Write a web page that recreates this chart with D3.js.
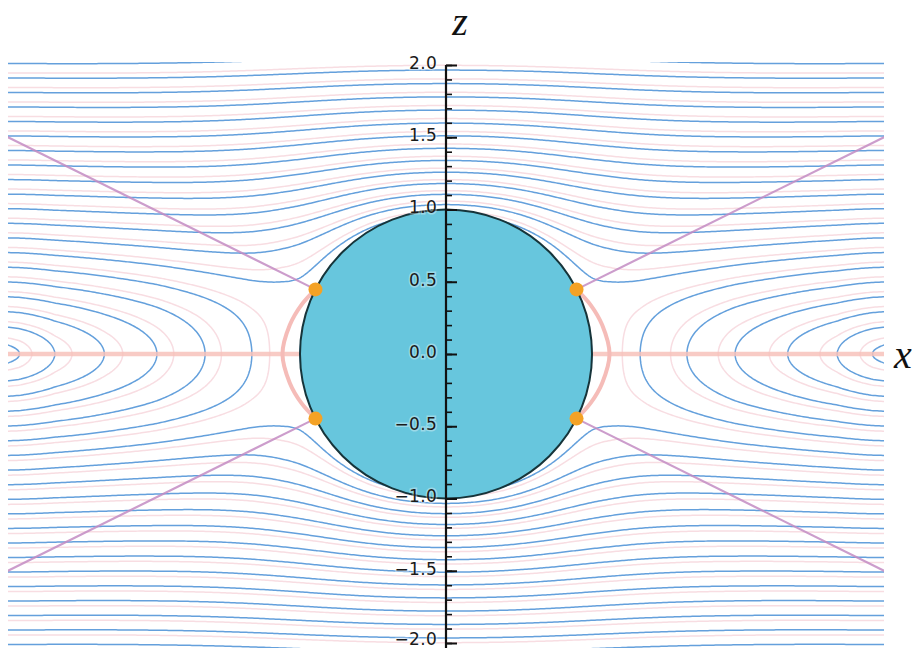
<!DOCTYPE html>
<html>
<head>
<meta charset="utf-8">
<script src="https://cdn.jsdelivr.net/npm/d3@7"></script>
<style>
  body { margin: 0; background: #fff; }
  svg { display: block; }
  .tick-label text { font-family: "DejaVu Sans", sans-serif; font-size: 17px; fill: #1a1a1a; letter-spacing: 0.3px; paint-order: stroke; stroke: rgba(255,255,255,0.35); stroke-width: 3px; }
  .axis-title { font-family: "Liberation Serif", "DejaVu Serif", serif; font-style: italic; font-size: 40px; fill: #111; }
</style>
</head>
<body>
<svg id="chart"></svg>
<script>
const width = 913;
const height = 648;

// plot domain (data units)
const X_DOMAIN = [-3, 3];
const Z_DOMAIN = [-2, 2];

// contour levels of the blue field lines
const LEVELS = d3.range(1, 23).map(k => k / 10);

// where each closed loop crosses the x axis (|x|), with its level
const AXIS_X =      [0.0, 1.0, 1.12, 1.33, 1.65, 1.98, 2.34, 2.68, 2.92, 3.3];
const AXIS_LEVEL =  [1.0, 0.7, 0.66, 0.6,  0.5,  0.4,  0.3,  0.2,  0.1,  0.0];

// sphere radius and the points where the cone lines meet it
const SPHERE_R = 1;
const CONE_SLOPE = 0.5;
const DOTS = [[-0.894, 0.447], [0.894, 0.447], [-0.894, -0.447], [0.894, -0.447]];

// pink arc beside the sphere (right half, mirrored for the left)
const ARC = [[0.894, 0.447], [0.99, 0.34], [1.07, 0.2], [1.12, 0.0], [1.07, -0.2], [0.99, -0.34], [0.894, -0.447]];

const Z_TICKS_MAJOR = [-2, -1.5, -1, -0.5, 0, 0.5, 1, 1.5, 2];
const Z_TICKS_MINOR = d3.range(-20, 21).map(k => k / 10);

const x = d3.scaleLinear().domain(X_DOMAIN).range([8, 884]);
const y = d3.scaleLinear().domain(Z_DOMAIN).range([643, 65]);

const axisLevel = d3.scaleLinear().domain(AXIS_X).range(AXIS_LEVEL).clamp(true);

// scalar field whose level sets are the blue lines
function field(px, pz) {
  const u = Math.abs(px), v = Math.abs(pz);
  const r = Math.max(Math.hypot(u, v), 0.6);
  const vUp = v * (1 - 0.25 / (r * r * r));
  const c2 = (u * u) / (r * r);
  const m = axisLevel(u) * c2;
  return Math.sqrt(vUp * vUp + m * m);
}

const svg = d3.select("#chart").attr("width", width).attr("height", height);

svg.append("defs").append("clipPath").attr("id", "plot-clip")
  .append("rect")
  .attr("x", x(X_DOMAIN[0])).attr("y", y(Z_DOMAIN[1]) - 3)
  .attr("width", x(X_DOMAIN[1]) - x(X_DOMAIN[0]))
  .attr("height", y(Z_DOMAIN[0]) - y(Z_DOMAIN[1]) + 10);

// sample grid slightly larger than the plot so the grid border stays clipped
const gx0 = -3.2, gx1 = 3.2, gz0 = -2.3, gz1 = 2.3;
const nx = 480, nz = 345;
const dx = (gx1 - gx0) / nx, dz = (gz1 - gz0) / nz;
const values = new Float64Array(nx * nz);
for (let j = 0; j < nz; j++) {
  const pz = gz1 - (j + 0.5) * dz;
  for (let i = 0; i < nx; i++) {
    values[j * nx + i] = field(gx0 + (i + 0.5) * dx, pz);
  }
}

const toScreen = d3.geoTransform({
  point(px, py) { this.stream.point(x(gx0 + px * dx), y(gz1 - py * dz)); }
});
const path = d3.geoPath(toScreen);

const plot = svg.append("g").attr("clip-path", "url(#plot-clip)");

// faint pink halos beside the lines
const halo = d3.contours().size([nx, nz]).thresholds(LEVELS.map(l => l + 0.035))(values);
plot.append("g").selectAll("path").data(halo).join("path")
  .attr("d", path).attr("fill", "none")
  .attr("stroke", "#f8dde2").attr("stroke-width", 1.5);

const contours = d3.contours().size([nx, nz]).thresholds(LEVELS)(values);
plot.append("g").selectAll("path").data(contours).join("path")
  .attr("d", path).attr("fill", "none")
  .attr("stroke", "#64a0dc").attr("stroke-width", 1.5);

// horizontal pink line on the x axis
[-1, 1].forEach(s => {
  plot.append("line")
    .attr("x1", x(s * SPHERE_R)).attr("x2", x(s * 3.05))
    .attr("y1", y(0)).attr("y2", y(0))
    .attr("stroke", "#f7c2bb").attr("stroke-width", 4.5).attr("opacity", 0.85);
});

// cone lines z = ±x/2
const xEdge = 3.05;
const x0 = SPHERE_R / Math.sqrt(1 + CONE_SLOPE * CONE_SLOPE);
[[1, 1], [1, -1], [-1, 1], [-1, -1]].forEach(([sx, sz]) => {
  plot.append("line")
    .attr("x1", x(sx * x0)).attr("y1", y(sz * CONE_SLOPE * x0))
    .attr("x2", x(sx * xEdge)).attr("y2", y(sz * CONE_SLOPE * xEdge))
    .attr("stroke", "#c48cc4").attr("stroke-width", 2.2).attr("opacity", 0.85);
});

// pink arcs
const arcLine = d3.line().x(d => x(d[0])).y(d => y(d[1])).curve(d3.curveCatmullRom);
[1, -1].forEach(s => {
  plot.append("path")
    .attr("d", arcLine(ARC.map(d => [s * d[0], d[1]])))
    .attr("fill", "none").attr("stroke", "#f5bcb8").attr("stroke-width", 4);
});

// sphere
svg.append("ellipse")
  .attr("cx", x(0)).attr("cy", y(0))
  .attr("rx", x(SPHERE_R) - x(0)).attr("ry", y(0) - y(SPHERE_R))
  .attr("fill", "#67c6dd").attr("stroke", "#16343a").attr("stroke-width", 2);

// orange contact points
svg.append("g").selectAll("circle").data(DOTS).join("circle")
  .attr("cx", d => x(d[0])).attr("cy", d => y(d[1]))
  .attr("r", 7).attr("fill", "#f4a225");

// vertical axis
const axisG = svg.append("g").attr("transform", `translate(${x(0)},0)`);
axisG.append("g")
  .call(d3.axisRight(y).tickValues(Z_TICKS_MINOR).tickSize(6).tickFormat(""))
  .call(g => g.select(".domain").remove())
  .call(g => g.selectAll(".tick line").attr("stroke", "#111").attr("stroke-width", 1.6));
axisG.append("g")
  .call(d3.axisRight(y).tickValues(Z_TICKS_MAJOR).tickSize(11).tickFormat(""))
  .call(g => g.select(".domain").remove())
  .call(g => g.selectAll(".tick line").attr("stroke", "#111").attr("stroke-width", 2));
axisG.append("line")
  .attr("x1", 0).attr("x2", 0).attr("y1", y(2)).attr("y2", height)
  .attr("stroke", "#111").attr("stroke-width", 2.2);
axisG.append("g").attr("class", "tick-label")
  .call(d3.axisLeft(y).tickValues(Z_TICKS_MAJOR).tickSize(0).tickPadding(9).tickFormat(d3.format(".1f")))
  .call(g => g.select(".domain").remove())
  .call(g => g.selectAll("text").attr("dy", d => d === -2 ? "0.1em" : "0.2em"));

// axis titles
svg.append("text").attr("class", "axis-title")
  .attr("x", 460).attr("y", 35).attr("text-anchor", "middle").text("z");
svg.append("text").attr("class", "axis-title")
  .attr("x", 903).attr("y", 368).attr("text-anchor", "middle").text("x");
</script>
</body>
</html>
